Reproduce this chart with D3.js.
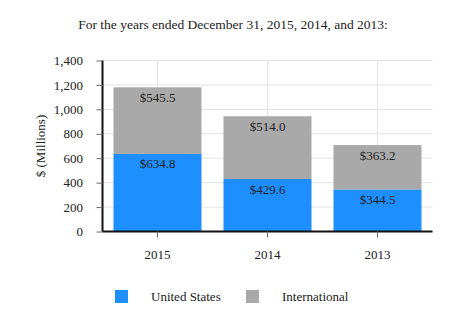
<!DOCTYPE html>
<html>
<head>
<meta charset="utf-8">
<script src="https://cdn.jsdelivr.net/npm/d3@7"></script>
<style>
  html, body { margin: 0; padding: 0; background: #fff; }
  svg { display: block; font-family: "Liberation Serif", "Times New Roman", serif; }
</style>
</head>
<body>
<svg id="chart" width="466" height="333"></svg>
<script>
const years = ["2015", "2014", "2013"];
const unitedStates = [634.8, 429.6, 344.5];
const international = [545.5, 514.0, 363.2];
const yTicks = [0, 200, 400, 600, 800, 1000, 1200, 1400];
const seriesNames = ["United States", "International"];
const seriesColors = ["#1e8fff", "#a9a9a9"];

const svg = d3.select("#chart");
const margin = { left: 102.5, right: 33.5, top: 60.5, bottom: 101.5 };
const W = 466, H = 333;

const x = d3.scaleBand().domain(years)
  .range([margin.left, W - margin.right]).paddingInner(0.2).paddingOuter(0.1);
const y = d3.scaleLinear().domain([0, 1400]).range([H - margin.bottom, margin.top]);

// title
svg.append("text")
  .attr("x", 233).attr("y", 29)
  .attr("text-anchor", "middle")
  .attr("font-size", 13.5).attr("fill", "#222")
  .text("For the years ended December 31, 2015, 2014, and 2013:");

// horizontal gridlines
svg.append("g").selectAll("line").data(yTicks).join("line")
  .attr("x1", margin.left).attr("x2", W - margin.right)
  .attr("y1", d => y(d)).attr("y2", d => y(d))
  .attr("stroke", "#e3e3e3").attr("stroke-width", 1);

// vertical gridlines at category centers
svg.append("g").selectAll("line").data(years).join("line")
  .attr("x1", d => x(d) + x.bandwidth() / 2).attr("x2", d => x(d) + x.bandwidth() / 2)
  .attr("y1", margin.top).attr("y2", y(0))
  .attr("stroke", "#e3e3e3").attr("stroke-width", 1);

// stacked bars
const rows = years.map((yr, i) => ({ year: yr, us: unitedStates[i], intl: international[i] }));
const stack = d3.stack().keys(["us", "intl"])(rows);

const layers = svg.append("g").selectAll("g").data(stack).join("g")
  .attr("fill", (d, i) => seriesColors[i]);

layers.selectAll("rect").data(d => d).join("rect")
  .attr("x", d => x(d.data.year))
  .attr("width", x.bandwidth())
  .attr("y", d => y(d[1]))
  .attr("height", d => y(d[0]) - y(d[1]));

// value labels near the top of each segment
layers.selectAll("text").data((d, i) => d.map(p => ({ p, key: d.key }))).join("text")
  .attr("x", d => x(d.p.data.year) + x.bandwidth() / 2)
  .attr("y", d => y(d.p[1]) + 14.5)
  .attr("text-anchor", "middle")
  .attr("font-size", 13).attr("fill", "#222")
  .text(d => "$" + d3.format(".1f")(d.p.data[d.key]));

// y axis
const yAxis = svg.append("g")
  .attr("transform", `translate(${margin.left},0)`)
  .call(d3.axisLeft(y).tickValues(yTicks).tickSize(6).tickPadding(13.5).tickFormat(d3.format(",")));
yAxis.select(".domain").attr("stroke", "#111").attr("stroke-width", 2)
  .attr("d", `M0,${y(1400)}V${y(0)}`);
yAxis.selectAll(".tick line").attr("stroke", "#666");
yAxis.selectAll(".tick text").attr("font-size", 13).attr("fill", "#222")
  .attr("font-family", "Liberation Serif, serif");

// x axis
const xAxis = svg.append("g")
  .attr("transform", `translate(0,${y(0)})`)
  .call(d3.axisBottom(x).tickSize(6).tickPadding(12));
xAxis.select(".domain").attr("stroke", "#111").attr("stroke-width", 2)
  .attr("d", `M${margin.left},0H${W - margin.right}`);
xAxis.selectAll(".tick line").attr("stroke", "#666");
xAxis.selectAll(".tick text").attr("font-size", 13).attr("fill", "#222")
  .attr("font-family", "Liberation Serif, serif");

// y axis title
svg.append("text")
  .attr("transform", `translate(44.5,${(y(0) + y(1400)) / 2}) rotate(-90)`)
  .attr("text-anchor", "middle")
  .attr("font-size", 13).attr("fill", "#222")
  .text("$ (Millions)");

// legend
const legendX = [115, 246];
const legend = svg.append("g").selectAll("g").data(seriesNames).join("g")
  .attr("transform", (d, i) => `translate(${legendX[i]},290)`);
legend.append("rect").attr("width", 13).attr("height", 13)
  .attr("fill", (d, i) => seriesColors[i]);
legend.append("text").attr("x", 36).attr("y", 11)
  .attr("font-size", 13).attr("fill", "#222")
  .text(d => d);
</script>
</body>
</html>
